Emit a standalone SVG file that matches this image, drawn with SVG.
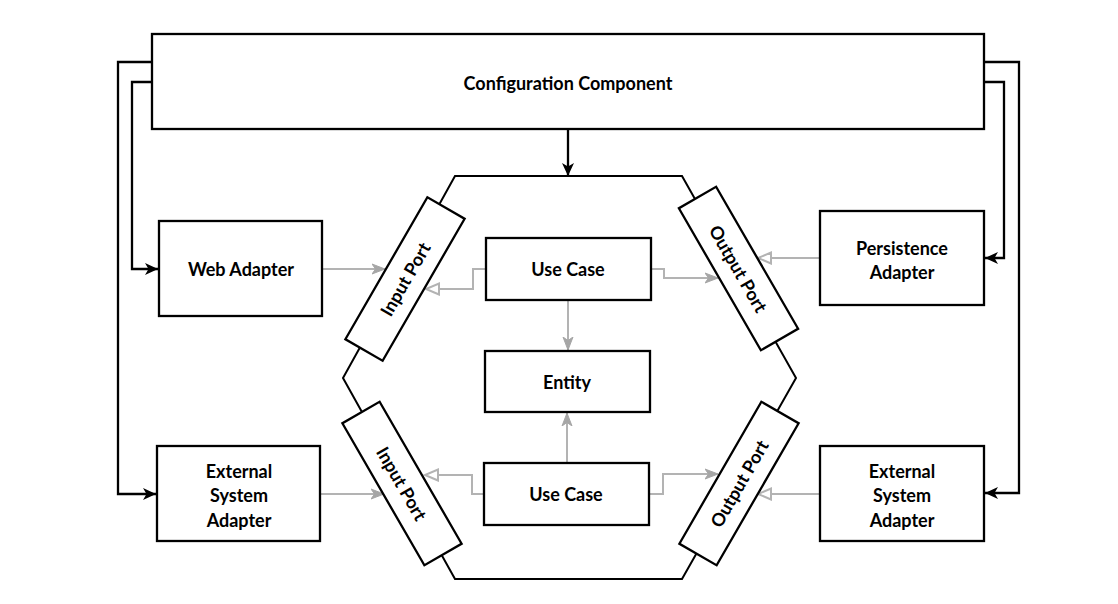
<svg xmlns="http://www.w3.org/2000/svg" width="1118" height="604" viewBox="0 0 1118 604">
<style>
.box{fill:#fff;stroke:#000;stroke-width:2.3}
.lbl{font-family:Lato,"Open Sans",sans-serif;font-weight:bold;font-size:18px;fill:#000;text-anchor:middle;dominant-baseline:central}
.blk{fill:none;stroke:#000;stroke-width:2.3;marker-end:url(#ab)}
.gf{fill:none;stroke:#b3b3b3;stroke-width:2;marker-end:url(#ag)}
.gh{fill:none;stroke:#b3b3b3;stroke-width:2;marker-end:url(#ah)}
</style>
<defs>
<marker id="ab" markerUnits="userSpaceOnUse" markerWidth="14" markerHeight="12" refX="13" refY="6" orient="auto" viewBox="0 0 14 12"><path d="M0,0 L13,6 L0,12 L3.5,6 Z" fill="#000"/></marker>
<marker id="ag" markerUnits="userSpaceOnUse" markerWidth="14" markerHeight="12" refX="13" refY="6" orient="auto" viewBox="0 0 14 12"><path d="M0,1 L13,6 L0,11 L3.5,6 Z" fill="#a6a6a6" stroke="#a6a6a6" stroke-width="1"/></marker>
<marker id="ah" markerUnits="userSpaceOnUse" markerWidth="16" markerHeight="14" refX="14" refY="7" orient="auto" viewBox="0 0 16 14"><path d="M1,1.5 L14,7 L1,12.5 Z" fill="#fff" stroke="#b3b3b3" stroke-width="2"/></marker>
</defs>
<rect width="1118" height="604" fill="#fff"/>
<g id="connectors">
<path class="blk" d="M152,82 H132 V269 H158"/>
<path class="blk" d="M152,62 H118 V494 H156"/>
<path class="blk" d="M984,62 H1019 V493 H985"/>
<path class="blk" d="M984,82 H1004 V258 H985"/>
<path class="blk" d="M568,129 V176"/>
<path class="gf" d="M322,269 H385"/>
<path class="gh" d="M486,269 H473 V289 H426"/>
<path class="gf" d="M651,269 H664 V278 H718"/>
<path class="gh" d="M820,258 H758"/>
<path class="gf" d="M568,300 V350"/>
<path class="gf" d="M567,463 V413"/>
<path class="gf" d="M320,494 H384"/>
<path class="gh" d="M484,494 H472 V475 H425"/>
<path class="gf" d="M649,494 H663 V474 H718"/>
<path class="gh" d="M820,494 H758"/>
</g>
<g id="config"><rect class="box" x="152" y="34" width="832" height="95"/><text class="lbl" x="568" y="83">Configuration Component</text></g>
<g id="hexagon"><polygon points="455,176 682,176 796,378 682,579 455,579 343,378" fill="none" stroke="#000" stroke-width="2"/></g>
<g id="web-adapter"><rect class="box" x="159" y="221" width="163" height="95"/><text class="lbl" x="241" y="269">Web Adapter</text></g>
<g id="ext-adapter-left"><rect class="box" x="157" y="446" width="163" height="95"/><text class="lbl" x="239" y="471">External</text><text class="lbl" x="239" y="495">System</text><text class="lbl" x="239" y="520">Adapter</text></g>
<g id="persistence-adapter"><rect class="box" x="820" y="211" width="164" height="94"/><text class="lbl" x="902" y="248">Persistence</text><text class="lbl" x="902" y="272">Adapter</text></g>
<g id="ext-adapter-right"><rect class="box" x="820" y="446" width="164" height="95"/><text class="lbl" x="902" y="471">External</text><text class="lbl" x="902" y="495">System</text><text class="lbl" x="902" y="520">Adapter</text></g>
<g id="use-case-top"><rect class="box" x="486" y="238" width="165" height="62"/><text class="lbl" x="568" y="269">Use Case</text></g>
<g id="entity"><rect class="box" x="485" y="351" width="165" height="61"/><text class="lbl" x="567" y="382">Entity</text></g>
<g id="use-case-bottom"><rect class="box" x="484" y="463" width="165" height="62"/><text class="lbl" x="566" y="494">Use Case</text></g>
<g id="input-port-top" transform="translate(405,279) rotate(-60)"><rect class="box" x="-82" y="-21.5" width="164" height="43"/><text class="lbl" x="0" y="0">Input Port</text></g>
<g id="output-port-top" transform="translate(738.5,268.5) rotate(60)"><rect class="box" x="-82" y="-21.5" width="164" height="43"/><text class="lbl" x="0" y="0">Output Port</text></g>
<g id="input-port-bottom" transform="translate(402,483.5) rotate(60)"><rect class="box" x="-82" y="-21.5" width="164" height="43"/><text class="lbl" x="0" y="0">Input Port</text></g>
<g id="output-port-bottom" transform="translate(739,483.5) rotate(-60)"><rect class="box" x="-82" y="-21.5" width="164" height="43"/><text class="lbl" x="0" y="0">Output Port</text></g>
</svg>
